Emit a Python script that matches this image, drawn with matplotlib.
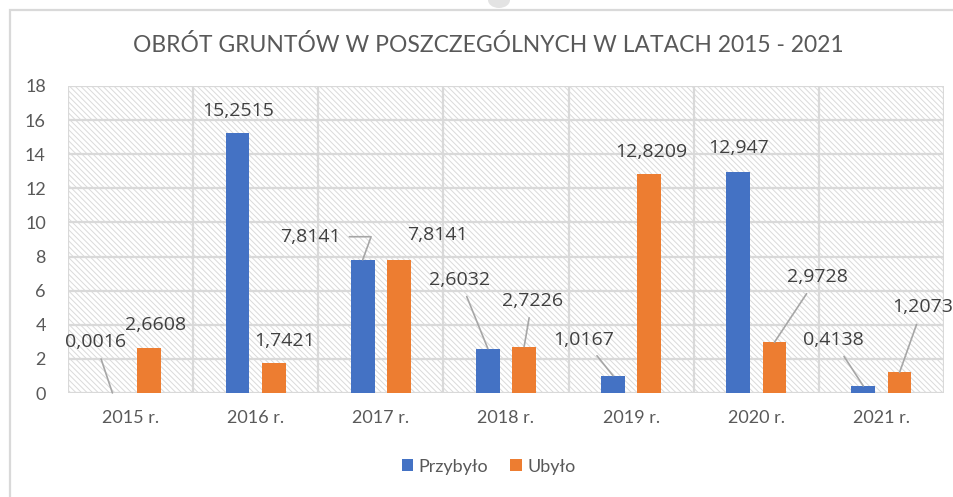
import matplotlib.pyplot as plt
import matplotlib.patches as mpatches
import numpy as np

# ------------------------------------------------------------
# data
# ------------------------------------------------------------
years = ["2015 r.", "2016 r.", "2017 r.", "2018 r.", "2019 r.", "2020 r.", "2021 r."]
przybylo = [0.0016, 15.2515, 7.8141, 2.6032, 1.0167, 12.947, 0.4138]
ubylo = [2.6608, 1.7421, 7.8141, 2.7226, 12.8209, 2.9728, 1.2073]

# label offsets (pixels from bar top) and whether a leader line is drawn
p_offsets = [(-17, 51, True), (1, 22, False), (-52, 23, True), (-28, 69, True),
             (-29, 36, True), (0, 24, False), (-30, 46, True)]
u_offsets = [(7, 23, False), (11, 22, False), (38, 25, False), (8, 46, True),
             (2, 22, False), (43, 65, True), (23, 65, True)]

BLUE = "#4472C4"
ORANGE = "#ED7D31"
GRID = "#d9d9d9"
TEXT = "#595959"
LABEL = "#404040"

plt.rcParams['font.family'] = ['Lato', 'DejaVu Sans']
plt.rcParams['hatch.linewidth'] = 0.7

W, H = 954, 497
fig = plt.figure(figsize=(W / 100, H / 100), dpi=100)
ax = fig.add_axes([68 / W, 1 - 393 / H, (944 - 68) / W, (393 - 86) / H])

# outer chart frame (cut off at right and bottom)
frame = mpatches.Rectangle((10 / W, -0.2), 1.2, 1.2 - 10 / H, transform=fig.transFigure,
                           fill=False, edgecolor=GRID, linewidth=1.6, clip_on=False)
fig.patches.append(frame)
handle = mpatches.Ellipse((499 / W, 1.0), 22 / W, 16 / H, transform=fig.transFigure,
                          facecolor="#e3e3e3", edgecolor="none")
fig.patches.append(handle)

# hatched plot background
ax.set_facecolor("white")
bg = mpatches.Rectangle((0, 0), 1, 1, transform=ax.transAxes, facecolor="white",
                        edgecolor="#dadada", hatch="\\" * 6, linewidth=0, zorder=0)
ax.add_patch(bg)

x = np.arange(len(years))
off = 0.145
bw = 0.19
bars_p = ax.bar(x - off, przybylo, bw, color=BLUE, zorder=3, label="Przybyło")
bars_u = ax.bar(x + off, ubylo, bw, color=ORANGE, zorder=3, label="Ubyło")

ax.set_xlim(-0.5, len(years) - 0.5)
ax.set_ylim(0, 18)
ax.set_yticks(np.arange(0, 19, 2))
ax.set_xticks(x)
ax.set_xticklabels(years)

# grid: horizontal at ticks, vertical between categories
for yv in np.arange(0, 19, 2):
    ax.axhline(yv, color=GRID, lw=1.6, zorder=1)
for xv in np.arange(-0.5, len(years), 1):
    ax.axvline(xv, color=GRID, lw=1.6, zorder=1)

for s in ax.spines.values():
    s.set_visible(False)
ax.tick_params(axis='both', length=0, colors=TEXT, labelsize=13)
ax.tick_params(axis='y', pad=16)
ax.tick_params(axis='x', pad=12)


def fmt(v):
    return f"{v:g}".replace(".", ",")


def add_labels(bars, values, offsets):
    for b, v, (dx, dy, leader) in zip(bars, values, offsets):
        xc = b.get_x() + b.get_width() / 2
        kw = {}
        if leader:
            props = dict(arrowstyle="-", color="#a6a6a6", lw=1.2, shrinkA=4, shrinkB=0)
            if dx < -45:
                # leader leaves the label sideways, then bends down to the bar
                props.update(relpos=(1.0, 0.5), connectionstyle="angle,angleA=0,angleB=70,rad=0")
            kw["arrowprops"] = props
        ax.annotate(fmt(v), (xc, v), xytext=(dx, dy), textcoords="offset pixels",
                    ha="center", va="center", fontsize=14, color=LABEL,
                    family=["Open Sans", "DejaVu Sans"], zorder=4, **kw)


add_labels(bars_p, przybylo, p_offsets)
add_labels(bars_u, ubylo, u_offsets)

fig.text(488 / W, 1 - 45 / H, "OBRÓT GRUNTÓW W POSZCZEGÓLNYCH W LATACH 2015 - 2021",
         ha="center", va="center", fontsize=16.5, color=TEXT)

ax.legend(loc="center", bbox_to_anchor=(0.48, -0.24), ncol=2, frameon=False,
          fontsize=13, labelcolor=TEXT, handlelength=0.65, handleheight=0.65,
          handletextpad=0.3, columnspacing=1.2)

fig.savefig("out.png", dpi=100)
